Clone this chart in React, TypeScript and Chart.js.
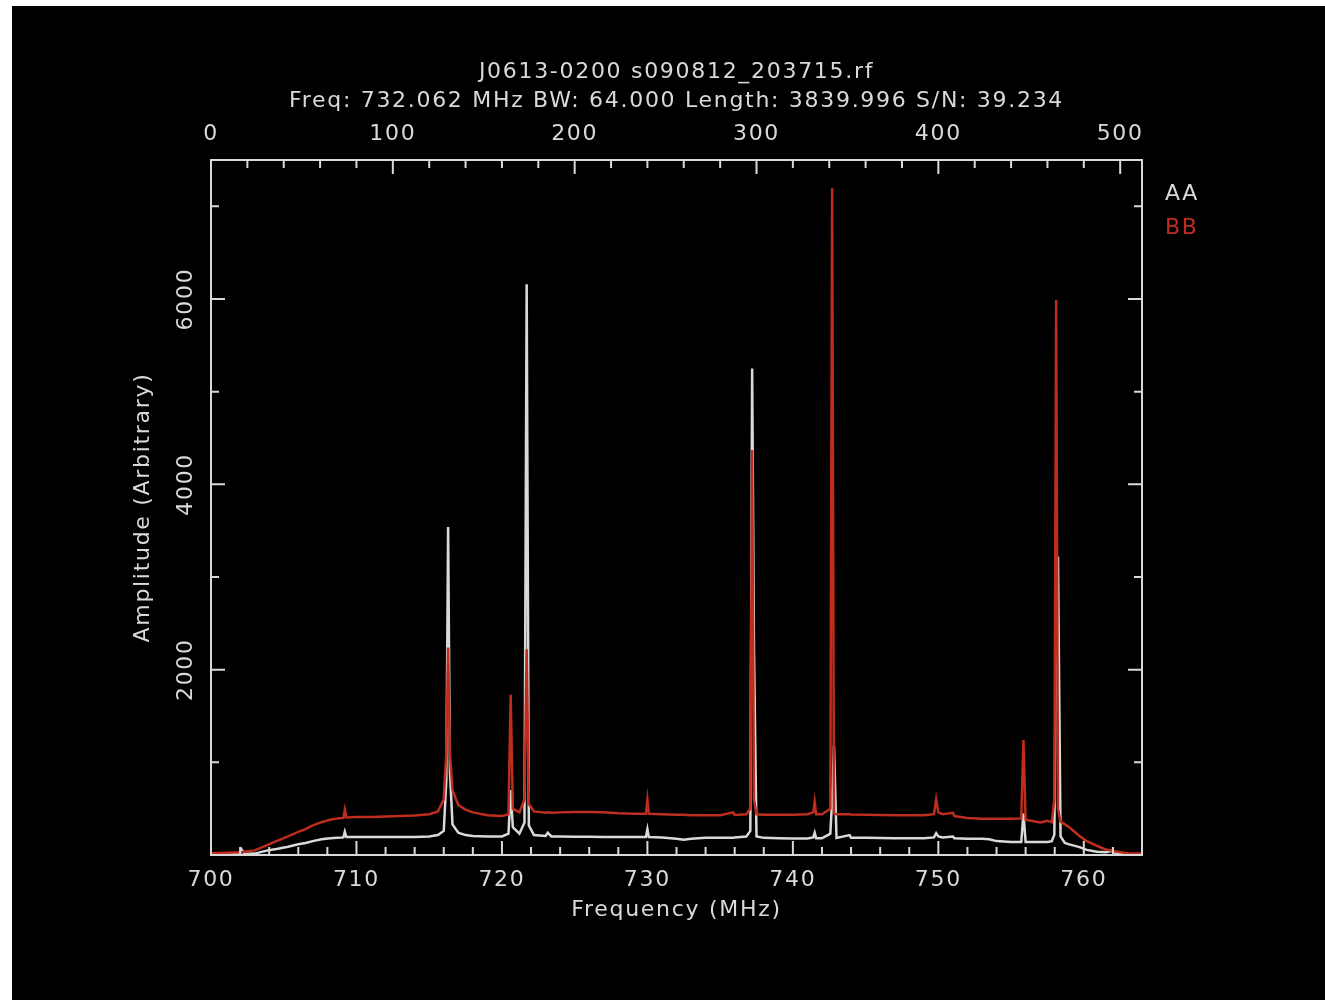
import React, { useEffect, useRef } from "react";
import Chart from "chart.js/auto";

// ---- data ----
const TITLE_LINE_1 = "J0613-0200 s090812_203715.rf";
const TITLE_LINE_2 = "Freq: 732.062 MHz BW: 64.000 Length: 3839.996 S/N: 39.234";
const X_TITLE = "Frequency (MHz)";
const Y_TITLE = "Amplitude (Arbitrary)";
const SERIES_NAMES = ["AA", "BB"];

const FREQ_RANGE = [700, 764];
const CHAN_RANGE = [0, 512];
const AMP_RANGE = [0, 7500];

const FREQ_TICKS = [700, 710, 720, 730, 740, 750, 760];
const FREQ_MINOR_STEP = 2;
const CHAN_TICKS = [0, 100, 200, 300, 400, 500];
const CHAN_MINOR_STEP = 20;
const AMP_TICKS = [0, 2000, 4000, 6000];
const AMP_MINOR_STEP = 1000;

const FREQ = [
  700.0, 701.0, 702.0, 702.1, 702.3, 703.0, 703.9, 704.5, 705.3, 706.0,
  706.5, 707.0, 707.6, 708.2, 708.7, 709.1, 709.2, 709.3, 710.0, 711.0,
  712.0, 713.0, 714.0, 715.0, 715.6, 716.0, 716.175, 716.3, 716.425, 716.6,
  717.0, 717.5, 718.0, 719.0, 720.0, 720.45, 720.6, 720.75, 721.2, 721.55,
  721.7, 721.85, 722.2, 723.0, 723.15, 723.4, 724.0, 725.0, 726.0, 727.0,
  728.0, 729.0, 729.9, 730.0, 730.1, 731.0, 732.0, 732.5, 733.0, 734.0,
  735.0, 735.9, 736.0, 736.8, 737.075, 737.2, 737.325, 737.5, 738.0, 739.0,
  740.0, 741.0, 741.4, 741.5, 741.6, 742.0, 742.575, 742.7, 742.825, 743.0,
  743.9, 744.0, 745.0, 746.0, 747.0, 748.0, 749.0, 749.7, 749.85, 750.0,
  750.3, 751.0, 751.1, 752.0, 753.0, 753.5, 754.0, 755.0, 755.7, 755.85,
  756.0, 757.0, 757.5, 757.8, 757.975, 758.1, 758.225, 758.4, 758.7, 759.0,
  759.7, 760.2, 760.9, 761.5, 762.0, 762.1, 763.0, 764.0,
];

const AA = [
  5, 5, 10, 60, 10, 15, 50, 65, 90, 115,
  130, 150, 170, 180, 185, 190, 250, 195, 195, 195,
  195, 195, 195, 200, 215, 260, 800, 3540, 900, 330,
  240, 215, 205, 200, 200, 230, 700, 300, 230, 350,
  6160, 320, 215, 205, 240, 200, 200, 198, 197, 195,
  195, 195, 195, 280, 195, 190, 175, 165, 175, 185,
  185, 185, 190, 200, 260, 5250, 2250, 200, 185, 180,
  178, 178, 190, 240, 180, 180, 230, 600, 1185, 185,
  215, 185, 185, 183, 180, 180, 180, 190, 235, 200,
  190, 200, 180, 175, 175, 170, 150, 140, 140, 450,
  140, 140, 140, 150, 220, 2550, 3220, 200, 130, 115,
  85, 55, 35, 30, 45, 25, 10, 5,
];

const BB = [
  20, 25, 30, 30, 35, 50, 110, 150, 200, 250,
  280, 320, 355, 380, 395, 400, 490, 405, 410, 410,
  415, 420, 425, 440, 470, 600, 1100, 2240, 1100, 700,
  540, 490, 460, 430, 420, 440, 1730, 500, 460, 600,
  2220, 550, 470, 455, 460, 455, 460, 465, 465, 460,
  450, 445, 445, 600, 445, 440, 435, 435, 430, 430,
  430, 460, 432, 440, 500, 4370, 600, 440, 435, 435,
  435, 440, 460, 575, 440, 440, 500, 7196, 450, 440,
  440, 437, 435, 432, 430, 428, 428, 440, 600, 460,
  440, 455, 420, 400, 390, 390, 390, 390, 395, 1240,
  380, 350, 370, 355, 600, 5990, 500, 360, 330, 300,
  205, 150, 100, 60, 45, 40, 20, 15,
];

// ---- styles ----
const FG = "#d9d9d9";
const RED = "#be2d1e";
const FONT = "'DejaVu Sans', sans-serif";

function range(from: number, to: number, step: number): number[] {
  const out: number[] = [];
  for (let v = from; v <= to + 1e-9; v += step) out.push(v);
  return out;
}

const decorPlugin = {
  id: "pgplotDecor",
  afterDraw(chart: any) {
    const { ctx, chartArea } = chart;
    const { left, right, top, bottom } = chartArea;
    const sx = chart.scales.x;
    const sx2 = chart.scales.x2;
    const sy = chart.scales.y;
    const MAJ = 14;
    const MIN = 8;
    ctx.save();
    ctx.strokeStyle = FG;
    ctx.fillStyle = FG;
    ctx.lineWidth = 2;
    // frame
    ctx.strokeRect(left, top, right - left, bottom - top);
    ctx.beginPath();
    // bottom (frequency) ticks
    range(FREQ_RANGE[0], FREQ_RANGE[1], FREQ_MINOR_STEP).forEach((f) => {
      const px = sx.getPixelForValue(f);
      const len = FREQ_TICKS.includes(f) ? MAJ : MIN;
      ctx.moveTo(px, bottom);
      ctx.lineTo(px, bottom - len);
    });
    // top (channel) ticks
    range(CHAN_RANGE[0], CHAN_RANGE[1], CHAN_MINOR_STEP).forEach((c) => {
      const px = sx2.getPixelForValue(c);
      const len = CHAN_TICKS.includes(c) ? MAJ : MIN;
      ctx.moveTo(px, top);
      ctx.lineTo(px, top + len);
    });
    // left & right ticks
    range(AMP_RANGE[0], AMP_RANGE[1], AMP_MINOR_STEP).forEach((a) => {
      const py = sy.getPixelForValue(a);
      const len = AMP_TICKS.includes(a) ? MAJ : MIN;
      ctx.moveTo(left, py);
      ctx.lineTo(left + len, py);
      ctx.moveTo(right, py);
      ctx.lineTo(right - len, py);
    });
    ctx.stroke();

    ctx.font = `22px ${FONT}`;
    ctx.letterSpacing = "1.7px";
    ctx.textAlign = "center";
    ctx.textBaseline = "middle";
    FREQ_TICKS.forEach((f) => {
      ctx.fillText(String(f), sx.getPixelForValue(f), bottom + 25);
    });
    CHAN_TICKS.forEach((c) => {
      ctx.fillText(String(c), sx2.getPixelForValue(c), top - 26);
    });
    AMP_TICKS.slice(1).forEach((a) => {
      ctx.save();
      ctx.translate(left - 25, sy.getPixelForValue(a));
      ctx.rotate(-Math.PI / 2);
      ctx.fillText(String(a), 0, 0);
      ctx.restore();
    });
    const cx = (left + right) / 2;
    const cy = (top + bottom) / 2;
    ctx.fillText(X_TITLE, cx, bottom + 55);
    ctx.fillText(TITLE_LINE_1, cx, top - 88);
    ctx.fillText(TITLE_LINE_2, cx, top - 59);
    ctx.save();
    ctx.translate(left - 68, cy);
    ctx.rotate(-Math.PI / 2);
    ctx.fillText(Y_TITLE, 0, 0);
    ctx.restore();
    // legend
    ctx.textAlign = "left";
    ctx.fillStyle = FG;
    ctx.fillText(SERIES_NAMES[0], right + 23, top + 34);
    ctx.fillStyle = RED;
    ctx.fillText(SERIES_NAMES[1], right + 23, top + 68);
    ctx.restore();
  },
};

export default function App() {
  const ref = useRef<HTMLCanvasElement | null>(null);
  useEffect(() => {
    if (!ref.current) return;
    const chart = new Chart(ref.current, {
      type: "line",
      data: {
        datasets: [
          {
            label: SERIES_NAMES[1],
            data: FREQ.map((f, i) => ({ x: f, y: BB[i] })),
            borderColor: RED,
            borderWidth: 2.5,
            pointRadius: 0,
            tension: 0,
            xAxisID: "x",
            yAxisID: "y",
            order: 0,
          },
          {
            label: SERIES_NAMES[0],
            data: FREQ.map((f, i) => ({ x: f, y: AA[i] })),
            borderColor: FG,
            borderWidth: 2.5,
            pointRadius: 0,
            tension: 0,
            xAxisID: "x",
            yAxisID: "y",
            order: 1,
          },
        ],
      },
      options: {
        responsive: false,
        animation: false,
        events: [],
        layout: { padding: { left: 199, right: 183, top: 154, bottom: 145 } },
        plugins: { legend: { display: false }, title: { display: false }, tooltip: { enabled: false } },
        scales: {
          x: { type: "linear", display: false, min: FREQ_RANGE[0], max: FREQ_RANGE[1] },
          x2: { type: "linear", display: false, position: "top", min: CHAN_RANGE[0], max: CHAN_RANGE[1] },
          y: { type: "linear", display: false, min: AMP_RANGE[0], max: AMP_RANGE[1] },
        },
      },
      plugins: [decorPlugin],
    });
    return () => chart.destroy();
  }, []);
  return (
    <div
      style={{
        position: "absolute",
        left: 12,
        top: 6,
        width: 1313,
        height: 994,
        background: "#000",
      }}
    >
      <canvas ref={ref} width={1313} height={994} style={{ display: "block" }} />
    </div>
  );
}
